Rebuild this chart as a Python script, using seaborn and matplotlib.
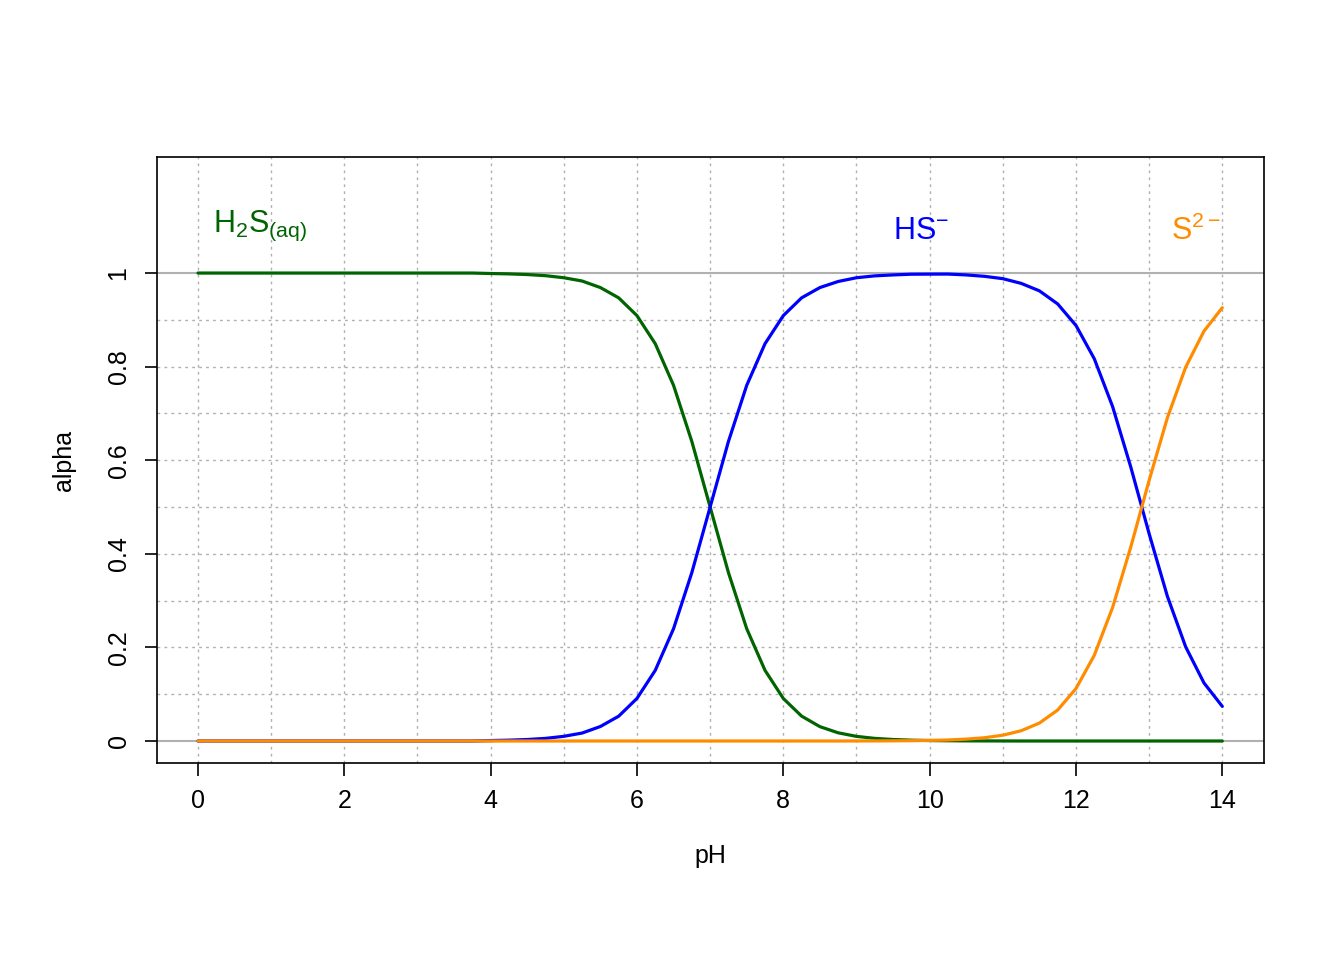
import numpy as np
import pandas as pd
import matplotlib
matplotlib.use("Agg")
import matplotlib.pyplot as plt
import seaborn as sns

pH = [i * 0.25 for i in range(57)]
h2s = [1.0]*16 + [0.999, 0.9982, 0.9968, 0.9944,
       0.990, 0.983, 0.969, 0.947, 0.909, 0.849, 0.760, 0.640, 0.500, 0.360, 0.240, 0.151,
       0.0909, 0.0532, 0.0307, 0.0175, 0.0099, 0.0056, 0.0032, 0.0018, 0.001,
       0.0006, 0.0003, 0.0002, 0.0001, 0.0, 0.0, 0.0, 0.0, 0.0, 0.0, 0.0, 0.0, 0.0, 0.0, 0.0, 0.0]
hs = [0.0]*16 + [0.001, 0.0018, 0.0032, 0.0056,
      0.010, 0.017, 0.031, 0.053, 0.091, 0.151, 0.240, 0.360, 0.500, 0.640, 0.760, 0.849,
      0.909, 0.947, 0.969, 0.982, 0.990, 0.994, 0.996, 0.9975, 0.9977, 0.9978, 0.996, 0.993,
      0.988, 0.978, 0.962, 0.934, 0.888, 0.817, 0.715, 0.585, 0.443, 0.309, 0.201, 0.124, 0.074]
s2 = [0.0]*36 + [0.0001, 0.0002, 0.0004, 0.0007,
      0.00126, 0.0022, 0.0040, 0.0070, 0.0124, 0.0219, 0.0383, 0.0662, 0.112, 0.183, 0.285,
      0.415, 0.557, 0.691, 0.799, 0.876, 0.926]

species = ["H2S", "HS-", "S2-"]
colors = ["#006400", "#0000FF", "#FF8C00"]

df = pd.concat([pd.DataFrame({"pH": pH, "alpha": v, "sp": s})
                for v, s in zip([h2s, hs, s2], species)])

sns.set_style("white")
plt.rcParams["font.family"] = ["Liberation Sans", "DejaVu Sans"]
plt.rcParams["mathtext.fontset"] = "custom"
plt.rcParams["mathtext.rm"] = "Liberation Sans"
plt.rcParams["mathtext.it"] = "Liberation Sans"
plt.rcParams["mathtext.default"] = "rm"
fig = plt.figure(figsize=(13.44, 9.6), dpi=100)
ax = fig.add_axes([157/1344, 1-763/960, (1264-157)/1344, (763-157)/960])

for x in range(15):
    ax.axvline(x, color="#b0b0b0", ls=(0, (2, 3)), lw=1, zorder=0)
for y in np.arange(0.1, 1.0, 0.1):
    ax.axhline(y, color="#b0b0b0", ls=(0, (2, 3)), lw=1, zorder=0)
ax.axhline(0, color="#b0b0b0", lw=1.5, zorder=0)
ax.axhline(1, color="#b0b0b0", lw=1.5, zorder=0)

sns.lineplot(data=df, x="pH", y="alpha", hue="sp", palette=dict(zip(species, colors)),
             lw=2.3, legend=False, ax=ax)

ax.set_xlim(-0.56, 14.57)
ax.set_ylim(-0.047, 1.248)
ax.set_xticks(range(0, 15, 2))
ax.set_yticks([0, 0.2, 0.4, 0.6, 0.8, 1])
ax.set_yticklabels(["0", "0.2", "0.4", "0.6", "0.8", "1"], rotation=90, va="center")
ax.tick_params(labelsize=18, length=9, width=1.2, direction="out", bottom=True, left=True,
               color="black", labelcolor="black", pad=10)
for s in ax.spines.values():
    s.set_color("black"); s.set_linewidth(1.2)
ax.set_xlabel("pH", fontsize=18, labelpad=22, color="black")
ax.set_ylabel("alpha", fontsize=18, labelpad=22, color="black")

ax.text(0.2, 1.1, r"H$_2$S$_{(aq)}$", color=colors[0], fontsize=22, va="center")
ax.text(9.5, 1.09, r"HS$^{-}$", color=colors[1], fontsize=22, va="center")
ax.text(13.3, 1.09, r"S$^{2-}$", color=colors[2], fontsize=22, va="center")

fig.savefig("out.png", dpi=100)
